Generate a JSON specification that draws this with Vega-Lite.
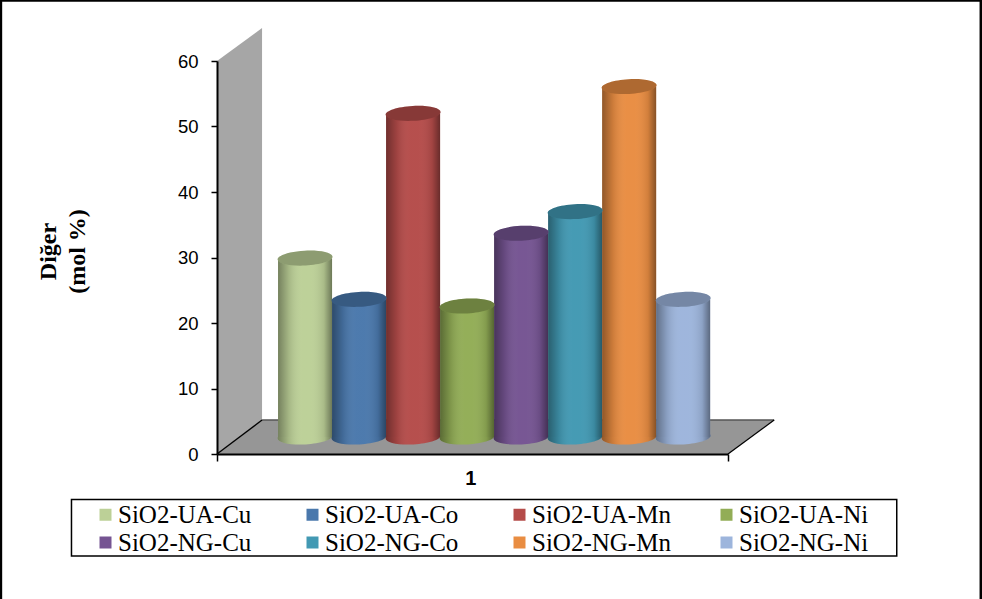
{
"$schema":"https://vega.github.io/schema/vega-lite/v6.json",
"autosize":"none","width":511,"height":393,
"padding":{"left":217,"top":61,"right":254,"bottom":145},
"background":"white",
"config":{"view":{"stroke":null}},
"datasets":{
"wall":[{"x":-1.13,"low":0,"high":60},{"x":-0.296,"low":5.19,"high":65.04}],
"floor":[{"x":-1.13,"low":0,"high":0},{"x":-0.296,"low":0,"high":5.19},{"x":8.33,"low":0,"high":5.19},{"x":9.185,"low":5.19,"high":5.19}],
"edges":[{"edge":"left","x":-1.13,"y":0},{"edge":"left","x":-0.296,"y":5.19},{"edge":"right","x":8.33,"y":0},{"edge":"right","x":9.185,"y":5.19}],
"back":[{"x":-0.296,"y":5.19},{"x":9.185,"y":5.19}],
"frame":[{"edge":"l","x":-5.13,"y":69.3},{"edge":"l","x":-5.13,"y":-22.2},{"edge":"t","x":-5.13,"y":69.25},{"edge":"t","x":13.01,"y":69.25},{"edge":"r","x":13.01,"y":69.3},{"edge":"r","x":13.01,"y":-22.2}],
"box":[{"x":-3.824,"x2":11.454,"y":-6.947,"y2":-15.57}],
"bars":[
{"series":"SiO2-UA-Cu","start":0,"mid":0.5,"end":1,"base":2.6,"value":29.9},
{"series":"SiO2-UA-Co","start":1,"mid":1.5,"end":2,"base":2.6,"value":23.6},
{"series":"SiO2-UA-Mn","start":2,"mid":2.5,"end":3,"base":2.6,"value":52},
{"series":"SiO2-UA-Ni","start":3,"mid":3.5,"end":4,"base":2.6,"value":22.6},
{"series":"SiO2-NG-Cu","start":4,"mid":4.5,"end":5,"base":2.6,"value":33.7},
{"series":"SiO2-NG-Co","start":5,"mid":5.5,"end":6,"base":2.6,"value":37},
{"series":"SiO2-NG-Mn","start":6,"mid":6.5,"end":7,"base":2.6,"value":56.1},
{"series":"SiO2-NG-Ni","start":7,"mid":7.5,"end":8,"base":2.6,"value":23.6}],
"label":[{"x":3.57,"y":-3.8,"text":"1"}]
},
"layer":[
{"data":{"name":"wall"},"mark":{"type":"area","color":"#a6a6a6","opacity":1},
 "encoding":{
  "x":{"field":"x","type":"quantitative","scale":{"domain":[-1.13,8.33],"nice":false,"zero":false},
   "axis":{"title":null,"values":[-1.13,8.33],"labels":false,"grid":false,"tickSize":7,"tickColor":"#000","domainColor":"#000","domainWidth":2,"tickWidth":1.5,"zindex":1}},
  "y":{"field":"high","type":"quantitative","scale":{"domain":[0,60],"nice":false,"zero":false},
   "axis":{"title":["Diğer","(mol %)"],"titleFont":"Liberation Serif","titleFontWeight":"bold","titleFontSize":24,"titleLineHeight":29,"titleColor":"#000","titleX":-157,"titleY":190,"titleAngle":-90,"titleBaseline":"bottom",
    "values":[0,10,20,30,40,50,60],"grid":false,"tickSize":6,"tickColor":"#000","domainColor":"#000","domainWidth":2,"tickWidth":1.5,"labelFont":"Liberation Sans","labelFontSize":18.5,"labelColor":"#000","labelPadding":13,"zindex":1}},
  "y2":{"field":"low"}}},
{"data":{"name":"floor"},"mark":{"type":"area","color":"#969696","opacity":1},
 "encoding":{"x":{"field":"x","type":"quantitative"},"y":{"field":"high","type":"quantitative"},"y2":{"field":"low"}}},
{"data":{"name":"back"},"mark":{"type":"line","color":"#555555","strokeWidth":1.5},
 "encoding":{"x":{"field":"x","type":"quantitative"},"y":{"field":"y","type":"quantitative"}}},
{"data":{"name":"edges"},"mark":{"type":"line","color":"#000000","strokeWidth":1.3},
 "encoding":{"x":{"field":"x","type":"quantitative"},"y":{"field":"y","type":"quantitative"},"detail":{"field":"edge"}}},
{"data":{"name":"box"},"mark":{"type":"rect","fill":"#fff","stroke":"#000","strokeWidth":1.5,"opacity":1},
 "encoding":{"x":{"field":"x","type":"quantitative"},"x2":{"field":"x2"},"y":{"field":"y","type":"quantitative"},"y2":{"field":"y2"}}},
{"data":{"name":"bars"},"mark":{"type":"point","filled":true,"opacity":1,"size":3025,"shape":"M-1,0A1,0.27,0,1,1,1,0A1,0.27,0,1,1,-1,0Z","strokeWidth":0,"angle":-3},
 "encoding":{"x":{"field":"mid","type":"quantitative"},"y":{"field":"base","type":"quantitative"},"color":{"field":"series","type":"nominal","sort":null}}},
{"data":{"name":"bars"},"mark":{"type":"point","filled":true,"opacity":1,"size":3025,"shape":"M-1,0A1,0.27,0,1,1,1,0A1,0.27,0,1,1,-1,0Z","strokeWidth":0,"angle":-3,
  "color":{"gradient":"linear","x1":0,"x2":1,"y1":0,"y2":0,"stops":[{"offset":0,"color":"rgba(0,0,0,0.38)"},{"offset":0.2,"color":"rgba(0,0,0,0.12)"},{"offset":0.45,"color":"rgba(255,255,255,0.02)"},{"offset":0.6,"color":"rgba(255,255,255,0.02)"},{"offset":0.85,"color":"rgba(0,0,0,0.1)"},{"offset":1,"color":"rgba(0,0,0,0.42)"}]}},
 "encoding":{"x":{"field":"mid","type":"quantitative"},"y":{"field":"base","type":"quantitative"}}},
{"data":{"name":"bars"},"mark":{"type":"bar","opacity":1},
 "encoding":{"x":{"field":"start","type":"quantitative"},"x2":{"field":"end"},"y":{"field":"value","type":"quantitative"},"y2":{"field":"base"},
  "color":{"field":"series","type":"nominal","sort":null,
   "scale":{"domain":["SiO2-UA-Cu","SiO2-UA-Co","SiO2-UA-Mn","SiO2-UA-Ni","SiO2-NG-Cu","SiO2-NG-Co","SiO2-NG-Mn","SiO2-NG-Ni"],"range":["#bcd097","#4a78ac","#b54c4a","#92ad56","#755492","#4299b3","#e98d42","#9db5dc"]},
   "legend":{"title":null,"orient":"none","legendX":-124,"legendY":441,"columns":4,"direction":"horizontal","symbolType":"square","symbolSize":144,"symbolStrokeWidth":0,"symbolOpacity":1,"labelFont":"Liberation Serif","labelFontSize":25,"labelColor":"#000","labelLimit":300,"labelOffset":0,"columnPadding":43,"rowPadding":2,"padding":0,"offset":0,"gridAlign":"all"}}}},
{"data":{"name":"bars"},"mark":{"type":"bar","opacity":1,
  "color":{"gradient":"linear","x1":0,"x2":1,"y1":0,"y2":0,"stops":[{"offset":0,"color":"rgba(0,0,0,0.38)"},{"offset":0.2,"color":"rgba(0,0,0,0.12)"},{"offset":0.45,"color":"rgba(255,255,255,0.02)"},{"offset":0.6,"color":"rgba(255,255,255,0.02)"},{"offset":0.85,"color":"rgba(0,0,0,0.1)"},{"offset":1,"color":"rgba(0,0,0,0.42)"}]}},
 "encoding":{"x":{"field":"start","type":"quantitative"},"x2":{"field":"end"},"y":{"field":"value","type":"quantitative"},"y2":{"field":"base"}}},
{"data":{"name":"bars"},"mark":{"type":"point","filled":true,"opacity":1,"size":3025,"shape":"M-1,0A1,0.27,0,1,1,1,0A1,0.27,0,1,1,-1,0Z","strokeWidth":0,"angle":-3},
 "encoding":{"x":{"field":"mid","type":"quantitative"},"y":{"field":"value","type":"quantitative"},"color":{"field":"series","type":"nominal","sort":null}}},
{"data":{"name":"bars"},"mark":{"type":"point","filled":true,"opacity":0.25,"color":"#000","size":3025,"shape":"M-1,0A1,0.27,0,1,1,1,0A1,0.27,0,1,1,-1,0Z","strokeWidth":0,"angle":-3},
 "encoding":{"x":{"field":"mid","type":"quantitative"},"y":{"field":"value","type":"quantitative"}}},
{"data":{"name":"label"},"mark":{"type":"text","font":"Liberation Sans","fontWeight":"bold","fontSize":20,"color":"#000"},
 "encoding":{"x":{"field":"x","type":"quantitative"},"y":{"field":"y","type":"quantitative"},"text":{"field":"text"}}},
{"data":{"name":"frame"},"mark":{"type":"line","color":"#000","strokeWidth":2.5},
 "encoding":{"x":{"field":"x","type":"quantitative"},"y":{"field":"y","type":"quantitative"},"detail":{"field":"edge"}}}
]
}
